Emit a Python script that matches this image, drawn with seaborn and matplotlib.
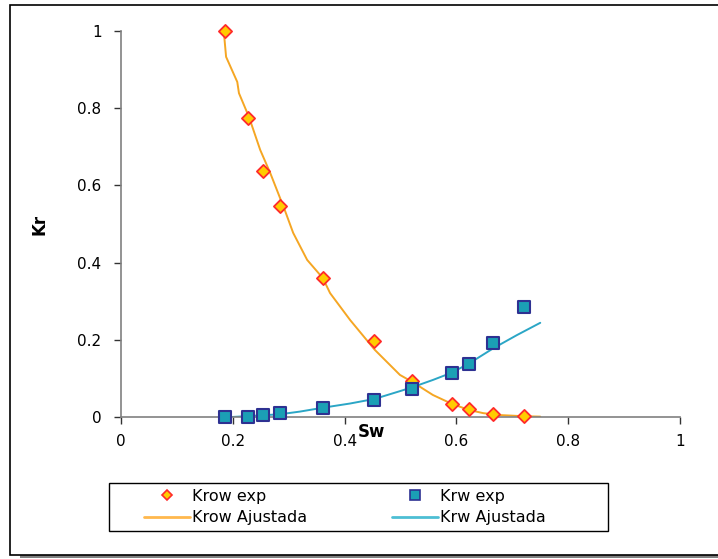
import matplotlib
matplotlib.use("Agg")
import matplotlib.pyplot as plt
from matplotlib.patches import Rectangle
from matplotlib.lines import Line2D
import seaborn as sns
import pandas as pd

# Experimental data
sw_exp = [0.186, 0.227, 0.254, 0.284, 0.361, 0.453, 0.521, 0.592, 0.623, 0.666, 0.721]
krow_exp = [1.000, 0.775, 0.637, 0.547, 0.360, 0.197, 0.094, 0.034, 0.020, 0.008, 0.002]
krw_exp = [0.000, 0.000, 0.005, 0.010, 0.024, 0.043, 0.072, 0.115, 0.137, 0.191, 0.286]

# Fitted curves
sw_fit_o = [0.184, 0.188, 0.208, 0.211, 0.229, 0.249, 0.267, 0.293, 0.308, 0.333, 0.361,
            0.374, 0.410, 0.454, 0.499, 0.521, 0.558, 0.592, 0.623, 0.648, 0.678, 0.721, 0.750]
krow_fit = [0.997, 0.933, 0.868, 0.839, 0.777, 0.692, 0.632, 0.536, 0.477, 0.407, 0.360,
            0.321, 0.251, 0.174, 0.109, 0.091, 0.057, 0.034, 0.018, 0.010, 0.005, 0.002, 0.001]
sw_fit_w = [0.198, 0.284, 0.320, 0.361, 0.410, 0.454, 0.499, 0.521, 0.558, 0.592, 0.623,
            0.666, 0.708, 0.750]
krw_fit = [0.000, 0.007, 0.014, 0.024, 0.035, 0.047, 0.067, 0.077, 0.096, 0.115, 0.139,
           0.178, 0.212, 0.244]

x_ticks = [0, 0.2, 0.4, 0.6, 0.8, 1]
y_ticks = [0, 0.2, 0.4, 0.6, 0.8, 1]
x_ticklabels = ["0", "0.2", "0.4", "0.6", "0.8", "1"]
y_ticklabels = ["0", "0.2", "0.4", "0.6", "0.8", "1"]

sns.set_theme(style="white")
plt.rcParams["font.family"] = ["DejaVu Sans"]
plt.rcParams["text.color"] = "black"
plt.rcParams["axes.labelcolor"] = "black"

W, H = 718, 559
fig = plt.figure(figsize=(W / 100, H / 100), dpi=100)

# chart border with shadow
fig.patches.append(Rectangle((20 / W, 1 / H), 1.0, 4 / H, transform=fig.transFigure,
                             facecolor="#808080", edgecolor="none", zorder=-3))
fig.patches.append(Rectangle((9.5 / W, (H - 555) / H), 1.0, (555 - 5) / H,
                             transform=fig.transFigure, facecolor="white",
                             edgecolor="black", linewidth=1.2, zorder=-2))
# legend box
fig.patches.append(Rectangle((108.5 / W, (H - 531) / H), 499 / W, 48 / H,
                             transform=fig.transFigure, facecolor="white",
                             edgecolor="black", linewidth=1.0, zorder=-1))

ax = fig.add_axes([121 / W, (H - 417) / H, 559 / W, 386 / H])
ax.set_facecolor("none")

orange_line = "#F5A623"
blue_line = "#2BA6C6"

df_fo = pd.DataFrame({"Sw": sw_fit_o, "Kr": krow_fit})
df_fw = pd.DataFrame({"Sw": sw_fit_w, "Kr": krw_fit})
df_e = pd.DataFrame({"Sw": sw_exp, "Krow": krow_exp, "Krw": krw_exp})

sns.lineplot(data=df_fo, x="Sw", y="Kr", ax=ax, color=orange_line, linewidth=1.4,
             sort=False, estimator=None, zorder=2)
sns.lineplot(data=df_fw, x="Sw", y="Kr", ax=ax, color=blue_line, linewidth=1.4,
             sort=False, estimator=None, zorder=2)
sns.scatterplot(data=df_e, x="Sw", y="Krow", ax=ax, marker="D", s=45,
                color="#FFCC00", edgecolor="#FF2A2A", linewidth=1.3, zorder=3, clip_on=False)
sns.scatterplot(data=df_e, x="Sw", y="Krw", ax=ax, marker="s", s=68,
                color="#1B9FB5", edgecolor="#2E3192", linewidth=1.5, zorder=3, clip_on=False)

ax.set_xlim(0, 1)
ax.set_ylim(0, 1)
ax.set_xticks(x_ticks)
ax.set_xticklabels(x_ticklabels)
ax.set_yticks(y_ticks)
ax.set_yticklabels(y_ticklabels)
for s in ["top", "right"]:
    ax.spines[s].set_visible(False)
for s in ["left", "bottom"]:
    ax.spines[s].set_color("#808080")
    ax.spines[s].set_linewidth(1.2)
ax.tick_params(axis="both", which="both", direction="out", length=5, width=1,
               color="#333333", labelsize=11, labelcolor="black", pad=7,
               bottom=True, left=True)
ax.tick_params(axis="y", pad=9)
ax.set_xlabel("Sw", fontsize=12, fontweight="bold")
ax.set_ylabel("Kr", fontsize=12, fontweight="bold")
ax.xaxis.set_label_coords((371 - 121) / 559, -(432 - 417) / 386)
ax.xaxis.label.set_verticalalignment("center")
ax.yaxis.set_label_coords(-(121 - 39) / 559, 0.5)
ax.yaxis.label.set_verticalalignment("center")
ax.grid(False)

handles = [
    Line2D([], [], linestyle="none", marker="D", markersize=5.5, markerfacecolor="#FFCC00",
           markeredgecolor="#FF2A2A", markeredgewidth=1.2),
    Line2D([], [], color="#FFB84D", linewidth=2),
    Line2D([], [], linestyle="none", marker="s", markersize=7, markerfacecolor="#1B9FB5",
           markeredgecolor="#2E3192", markeredgewidth=1.2),
    Line2D([], [], color="#4DBED4", linewidth=2),
]
labels = ["Krow exp", "Krow Ajustada", "Krw exp", "Krw Ajustada"]
leg = fig.legend(handles, labels, loc="upper left", ncol=2,
                 bbox_to_anchor=(144 / W, (H - 489) / H),
                 fontsize=11.5, frameon=False, handlelength=2.9, handletextpad=0.1,
                 labelspacing=0.4, borderpad=0, borderaxespad=0,
                 columnspacing=5.3)
for t in leg.get_texts():
    t.set_color("black")

fig.savefig("out.png", dpi=100)
